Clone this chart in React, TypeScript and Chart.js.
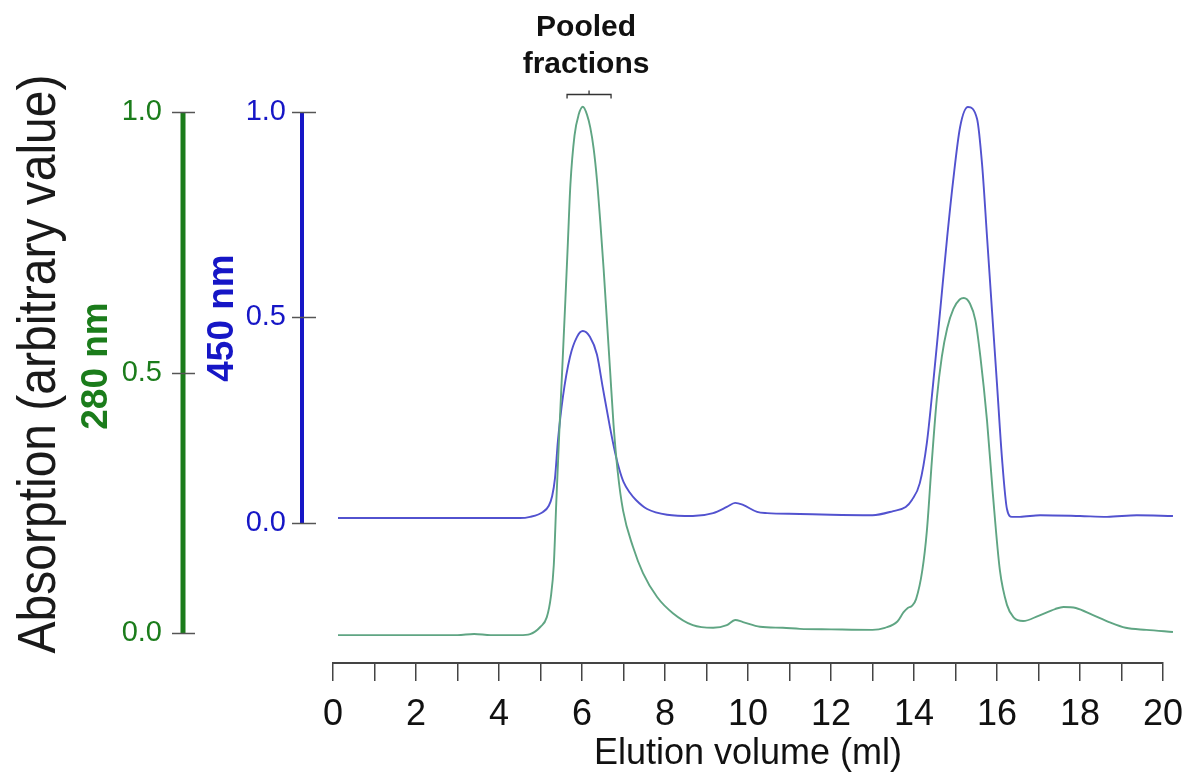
import React, { useEffect, useRef } from "react";
import { Chart, registerables } from "chart.js";

Chart.register(...registerables);

// Elution volume (ml) and absorbance at 280 nm (arbitrary units)
const greenX = [0.12, 1, 2, 3, 3.4, 3.8, 4.5, 4.75, 5.0, 5.15, 5.25, 5.32, 5.38, 5.45, 5.52, 5.6, 5.66, 5.72, 5.82, 5.92, 6.02, 6.12, 6.2, 6.28, 6.36, 6.44, 6.52, 6.6, 6.68, 6.76, 6.86, 6.99, 7.23, 7.47, 7.81, 8.19, 8.67, 9.16, 9.49, 9.69, 9.88, 10.29, 10.84, 11.25, 12.0, 13.0, 13.3, 13.6, 13.75, 13.85, 13.95, 14.05, 14.2, 14.31, 14.43, 14.55, 14.67, 14.8, 14.95, 15.1, 15.2, 15.35, 15.48, 15.6, 15.76, 15.9, 16.07, 16.24, 16.4, 16.63, 17.0, 17.4, 17.6, 17.9, 18.3, 18.7, 19.1, 19.6, 20.24];
const greenY = [-0.004, -0.004, -0.004, -0.004, -0.002, -0.004, -0.004, -0.002, 0.012, 0.03, 0.07, 0.13, 0.25, 0.38, 0.5, 0.64, 0.75, 0.86, 0.955, 0.995, 1.01, 0.995, 0.97, 0.93, 0.87, 0.79, 0.7, 0.6, 0.5, 0.4, 0.31, 0.235, 0.165, 0.115, 0.069, 0.038, 0.015, 0.01, 0.015, 0.025, 0.021, 0.012, 0.01, 0.008, 0.007, 0.006, 0.01, 0.022, 0.04, 0.048, 0.052, 0.065, 0.12, 0.196, 0.33, 0.45, 0.53, 0.585, 0.622, 0.64, 0.643, 0.632, 0.6, 0.53, 0.407, 0.267, 0.12, 0.054, 0.03, 0.023, 0.033, 0.046, 0.05, 0.048, 0.035, 0.021, 0.01, 0.006, 0.002];

// Elution volume (ml) and absorbance at 450 nm (arbitrary units)
const blueX = [0.12, 1, 2, 3, 4, 4.5, 4.75, 5.06, 5.2, 5.28, 5.35, 5.42, 5.54, 5.71, 5.88, 6.02, 6.19, 6.36, 6.5, 6.67, 6.8, 6.9, 7.0, 7.15, 7.3, 7.57, 8.05, 8.67, 9.16, 9.49, 9.69, 9.88, 10.22, 10.46, 11.25, 12.0, 13.0, 13.5, 13.8, 13.95, 14.14, 14.31, 14.46, 14.63, 14.8, 14.94, 15.11, 15.3, 15.52, 15.64, 15.76, 15.88, 16.0, 16.12, 16.24, 16.36, 16.55, 17.04, 18.0, 18.65, 19.37, 20.24];
const blueY = [0.012, 0.012, 0.012, 0.012, 0.012, 0.012, 0.015, 0.027, 0.042, 0.065, 0.11, 0.2, 0.307, 0.404, 0.453, 0.467, 0.453, 0.41, 0.33, 0.235, 0.17, 0.13, 0.1, 0.074, 0.056, 0.034, 0.02, 0.017, 0.024, 0.039, 0.049, 0.044, 0.027, 0.024, 0.022, 0.02, 0.019, 0.029, 0.039, 0.056, 0.097, 0.195, 0.338, 0.516, 0.696, 0.83, 0.963, 1.012, 0.983, 0.873, 0.696, 0.516, 0.338, 0.158, 0.034, 0.015, 0.015, 0.019, 0.017, 0.015, 0.019, 0.017];

const xTickValues = [0, 1, 2, 3, 4, 5, 6, 7, 8, 9, 10, 11, 12, 13, 14, 15, 16, 17, 18, 19, 20];
const xTickLabels = ["0", "", "2", "", "4", "", "6", "", "8", "", "10", "", "12", "", "14", "", "16", "", "18", "", "20"];
const greenTicks = [0, 0.5, 1.0];
const blueTicks = [0, 0.5, 1.0];
const poolRange = [5.64, 6.7];
const poolLevel = 1.0345;

const FONT = "'Liberation Sans', Arial, Helvetica, sans-serif";
const GREEN_AXIS = "#1b7c1b";
const BLUE_AXIS = "#1616c6";
const GREEN_LINE = "#5fa583";
const BLUE_LINE = "#5252cf";

const toPoints = (xs: number[], ys: number[]) => xs.map((x, i) => ({ x, y: ys[i] }));

const overlay = {
  id: "overlay",
  afterDraw(chart: any) {
    const ctx = chart.ctx;
    const xs = chart.scales.x;
    const yG = chart.scales.yG;
    const yB = chart.scales.yB;
    ctx.save();

    // 280 nm axis
    const gx = yG.right - 12;
    ctx.strokeStyle = GREEN_AXIS;
    ctx.lineWidth = 5;
    ctx.beginPath();
    ctx.moveTo(gx, yG.getPixelForValue(0));
    ctx.lineTo(gx, yG.getPixelForValue(1));
    ctx.stroke();
    ctx.strokeStyle = "#555";
    ctx.lineWidth = 1.5;
    greenTicks.forEach((v) => {
      const py = Math.round(yG.getPixelForValue(v)) + 0.5;
      ctx.beginPath();
      ctx.moveTo(gx - 11, py);
      ctx.lineTo(gx + 12, py);
      ctx.stroke();
    });

    // 450 nm axis
    const bx = yB.right - 31;
    ctx.strokeStyle = BLUE_AXIS;
    ctx.lineWidth = 4;
    ctx.beginPath();
    ctx.moveTo(bx, yB.getPixelForValue(0));
    ctx.lineTo(bx, yB.getPixelForValue(1));
    ctx.stroke();
    ctx.strokeStyle = "#555";
    ctx.lineWidth = 1.5;
    blueTicks.forEach((v) => {
      const py = Math.round(yB.getPixelForValue(v)) + 0.5;
      ctx.beginPath();
      ctx.moveTo(bx - 10, py);
      ctx.lineTo(bx + 14, py);
      ctx.stroke();
    });

    // axis titles
    ctx.textAlign = "center";
    ctx.textBaseline = "alphabetic";
    ctx.save();
    ctx.translate(55, 364);
    ctx.rotate(-Math.PI / 2);
    ctx.scale(1, 1.12);
    ctx.font = `48px ${FONT}`;
    ctx.fillStyle = "#1a1a1a";
    ctx.fillText("Absorption (arbitrary value)", 0, 0);
    ctx.restore();

    ctx.save();
    ctx.translate(107, 366);
    ctx.rotate(-Math.PI / 2);
    ctx.font = `bold 37px ${FONT}`;
    ctx.fillStyle = GREEN_AXIS;
    ctx.fillText("280 nm", 0, 0);
    ctx.restore();

    ctx.save();
    ctx.translate(233, 318);
    ctx.rotate(-Math.PI / 2);
    ctx.font = `bold 37px ${FONT}`;
    ctx.fillStyle = BLUE_AXIS;
    ctx.fillText("450 nm", 0, 0);
    ctx.restore();

    // pooled fractions bracket
    const p1 = xs.getPixelForValue(poolRange[0]);
    const p2 = xs.getPixelForValue(poolRange[1]);
    const pm = (p1 + p2) / 2;
    const py = Math.round(yG.getPixelForValue(poolLevel)) + 0.5;
    ctx.strokeStyle = "#333";
    ctx.lineWidth = 1.3;
    ctx.beginPath();
    ctx.moveTo(p1, py + 4);
    ctx.lineTo(p1, py);
    ctx.lineTo(p2, py);
    ctx.lineTo(p2, py + 4);
    ctx.moveTo(pm, py);
    ctx.lineTo(pm, py - 4);
    ctx.stroke();
    ctx.font = `bold 30px ${FONT}`;
    ctx.fillStyle = "#111";
    ctx.fillText("Pooled", pm - 3, py - 59);
    ctx.fillText("fractions", pm - 3, py - 22);

    ctx.restore();
  },
};

export default function App() {
  const ref = useRef<HTMLCanvasElement | null>(null);

  useEffect(() => {
    if (!ref.current) return;
    const chart = new Chart(ref.current, {
      type: "line",
      data: {
        datasets: [
          {
            label: "280 nm",
            data: toPoints(greenX, greenY),
            yAxisID: "yG",
            borderColor: GREEN_LINE,
            borderWidth: 1.9,
            pointRadius: 0,
            cubicInterpolationMode: "monotone",
            fill: false,
            clip: false,
          },
          {
            label: "450 nm",
            data: toPoints(blueX, blueY),
            yAxisID: "yB",
            borderColor: BLUE_LINE,
            borderWidth: 1.9,
            pointRadius: 0,
            cubicInterpolationMode: "monotone",
            fill: false,
            clip: false,
          },
        ],
      },
      options: {
        animation: false,
        responsive: false,
        devicePixelRatio: 1,
        layout: { padding: { top: 80, right: 37, bottom: 0, left: 0 } },
        plugins: { legend: { display: false }, tooltip: { enabled: false } },
        scales: {
          x: {
            type: "linear",
            position: "bottom",
            min: 0,
            max: 20,
            afterBuildTicks: (s: any) => {
              s.ticks = xTickValues.map((v) => ({ value: v }));
            },
            afterFit: (s: any) => {
              s.height = 115;
            },
            ticks: {
              autoSkip: false,
              maxRotation: 0,
              minRotation: 0,
              padding: 12,
              color: "#111",
              font: { family: FONT, size: 36 },
              callback: (v: any) => {
                const i = xTickValues.indexOf(Number(v));
                return i >= 0 ? xTickLabels[i] : "";
              },
            },
            grid: { drawOnChartArea: false, drawTicks: true, tickLength: 18, color: "#444", lineWidth: 1.5 },
            border: { display: true, color: "#444", width: 2 },
            title: {
              display: true,
              text: "Elution volume (ml)",
              color: "#111",
              font: { family: FONT, size: 36 },
              padding: { top: 0, bottom: 2 },
            },
          },
          yG: {
            type: "linear",
            position: "left",
            weight: 2,
            min: -0.05758,
            max: 1.06142,
            afterBuildTicks: (s: any) => {
              s.ticks = greenTicks.map((v) => ({ value: v }));
            },
            afterFit: (s: any) => {
              s.width = 195;
            },
            ticks: {
              color: GREEN_AXIS,
              padding: 33,
              font: { family: FONT, size: 29 },
              callback: (v: any) => Number(v).toFixed(1),
            },
            grid: { display: false, drawTicks: false },
            border: { display: false },
          },
          yB: {
            type: "linear",
            position: "left",
            weight: 1,
            min: -0.340633,
            max: 1.077859,
            afterBuildTicks: (s: any) => {
              s.ticks = blueTicks.map((v) => ({ value: v }));
            },
            afterFit: (s: any) => {
              s.width = 138;
            },
            ticks: {
              color: BLUE_AXIS,
              padding: 47,
              font: { family: FONT, size: 29 },
              callback: (v: any) => Number(v).toFixed(1),
            },
            grid: { display: false, drawTicks: false },
            border: { display: false },
          },
        },
      },
      plugins: [overlay],
    } as any);
    return () => chart.destroy();
  }, []);

  return (
    <div style={{ position: "absolute", left: 0, top: 0, width: 1200, height: 778, background: "#fff" }}>
      <canvas ref={ref} width={1200} height={778} style={{ display: "block" }} />
    </div>
  );
}
